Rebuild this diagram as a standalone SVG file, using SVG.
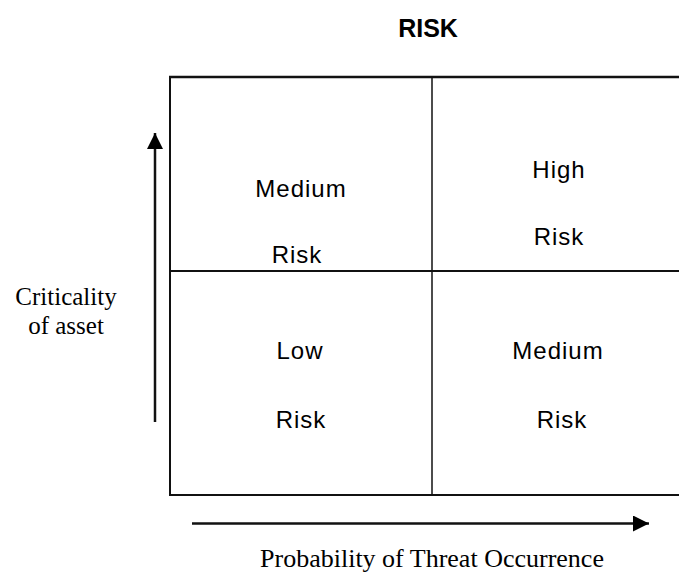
<svg xmlns="http://www.w3.org/2000/svg" width="679" height="575" viewBox="0 0 679 575">
<defs>
<style>
.cell{font-family:"Liberation Sans",Arial,sans-serif;font-size:24px;letter-spacing:1px;fill:#000;text-anchor:middle}
.axis{font-family:"Liberation Serif","Times New Roman",serif;font-size:25px;fill:#000;text-anchor:middle}
.title{font-family:"Liberation Sans",Arial,sans-serif;font-size:25px;font-weight:bold;fill:#000;text-anchor:middle}
.ln{stroke:#111;fill:none}
</style>
<marker id="ah2" viewBox="0 0 16 16" refX="16" refY="8" markerWidth="16" markerHeight="16" markerUnits="userSpaceOnUse" orient="auto">
<path d="M0,0 L16,8 L0,16 z" fill="#000"/>
</marker>
</defs>
<rect width="679" height="575" fill="#fff"/>
<g id="title"><text class="title" x="428" y="37">RISK</text></g>
<g id="grid">
<line class="ln" x1="169" y1="77" x2="679" y2="77" stroke-width="2.5"/>
<line class="ln" x1="170" y1="76" x2="170" y2="496" stroke-width="2"/>
<line class="ln" x1="169" y1="495" x2="679" y2="495" stroke-width="2"/>
<line class="ln" x1="170" y1="271" x2="679" y2="271" stroke-width="2"/>
<line class="ln" x1="432" y1="77" x2="432" y2="495" stroke-width="1.5"/>
</g>
<g id="cell-top-left"><text class="cell" x="301" y="197">Medium</text><text class="cell" x="297" y="263">Risk</text></g>
<g id="cell-top-right"><text class="cell" x="559" y="178">High</text><text class="cell" x="559" y="245">Risk</text></g>
<g id="cell-bottom-left"><text class="cell" x="300" y="359">Low</text><text class="cell" x="301" y="428">Risk</text></g>
<g id="cell-bottom-right"><text class="cell" x="558" y="359">Medium</text><text class="cell" x="562" y="428">Risk</text></g>
<g id="connectors">
<line class="ln" x1="155" y1="422" x2="155" y2="133" stroke-width="2.5" marker-end="url(#ah2)"/>
<line class="ln" x1="192" y1="523.5" x2="649" y2="523.5" stroke-width="2.5" marker-end="url(#ah2)"/>
</g>
<g id="y-label"><text class="axis" x="66" y="305">Criticality</text><text class="axis" x="66" y="334">of asset</text></g>
<g id="x-label"><text class="axis" x="432" y="567" style="font-size:26px">Probability of Threat Occurrence</text></g>
</svg>
